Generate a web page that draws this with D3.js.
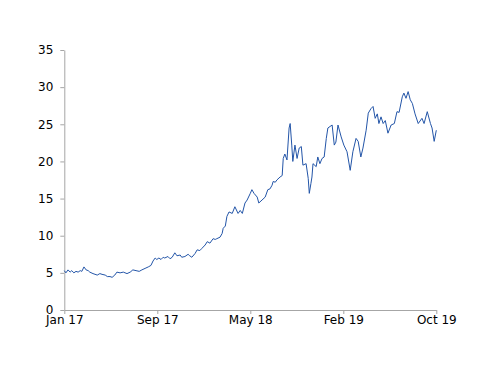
<!DOCTYPE html>
<html>
<head>
<meta charset="utf-8">
<script src="https://cdn.jsdelivr.net/npm/d3@7"></script>
<style>
  body { margin: 0; background: #fff; }
  .axis path, .axis line { stroke: #a6a6a6; }
  .axis text { fill: #000; font-family: "DejaVu Sans", Verdana, sans-serif; font-size: 12px; }
</style>
</head>
<body>
<svg id="chart"></svg>
<script>
"use strict";

// trading-day index from the first observation
var days = [0, 3, 7, 11, 14, 18, 22, 26, 30, 33, 37, 41, 45, 48, 54, 62, 67, 71, 77, 81,
  86, 90, 95, 99, 105, 111, 118, 124, 129, 135, 141, 146, 152, 158, 163, 167, 171, 174, 178, 182,
  186, 189, 195, 199, 203, 208, 212, 218, 221, 227, 233, 236, 240, 246, 250, 255, 259, 265, 269, 274,
  280, 284, 287, 293, 297, 299, 303, 306, 310, 316, 321, 327, 331, 335, 340, 344, 350, 353, 357, 363,
  366, 372, 378, 383, 387, 391, 393, 397, 400, 406, 410, 412, 415, 419, 423, 425, 428, 430, 434, 438,
  442, 446, 449, 455, 459, 461, 464, 466, 468, 474, 477, 481, 485, 489, 493, 496, 500, 504, 508, 511,
  515, 521, 526, 532, 538, 543, 549, 553, 558, 562, 568, 572, 577, 581, 585, 589, 592, 596, 600, 604,
  609, 615, 621, 626, 630, 636, 639, 643, 647, 651, 655, 660, 666, 673, 677, 683, 689, 692, 696, 700];

var values = [5.3, 5.0, 5.4, 5.1, 5.3, 5.0, 5.2, 5.1, 5.3, 5.2, 5.8, 5.4, 5.3, 5.1, 4.9, 4.7, 4.9, 4.8, 4.7, 4.5,
  4.5, 4.4, 4.7, 5.1, 5.0, 5.1, 4.9, 5.1, 5.4, 5.3, 5.2, 5.4, 5.6, 5.8, 6.0, 6.6, 7.0, 6.8, 7.0, 6.8,
  7.1, 7.0, 7.2, 6.9, 7.1, 7.7, 7.3, 7.4, 7.1, 7.2, 7.5, 7.3, 7.1, 7.6, 8.1, 8.0, 8.3, 8.75, 9.2, 9.0,
  9.6, 9.5, 9.6, 9.8, 10.3, 11.0, 11.3, 12.6, 13.2, 13.0, 13.9, 13.0, 13.4, 13.0, 14.4, 14.8, 15.7, 16.2, 15.7, 15.2,
  14.4, 14.8, 15.2, 16.2, 16.3, 16.8, 17.3, 17.2, 17.5, 17.9, 18.1, 20.4, 21.0, 20.2, 24.5, 25.1, 22.2, 20.0, 22.2, 20.4,
  21.8, 22.0, 19.5, 19.7, 17.7, 15.7, 17.0, 17.9, 19.7, 19.3, 20.6, 19.7, 20.4, 20.6, 23.1, 24.5, 24.7, 24.9, 22.2, 22.6,
  24.9, 23.3, 22.2, 21.3, 18.8, 21.3, 23.1, 22.7, 20.6, 21.8, 24.2, 26.5, 27.1, 27.4, 25.8, 26.4, 25.1, 26.0, 25.1, 25.5,
  23.8, 24.9, 25.1, 26.7, 26.6, 28.7, 29.2, 28.5, 29.4, 28.3, 27.8, 26.4, 25.1, 25.8, 25.1, 26.7, 25.1, 24.5, 22.7, 24.2];

var tickDays = [0, 175, 350, 525, 700];
var tickLabels = ["Jan 17", "Sep 17", "May 18", "Feb 19", "Oct 19"];
var yTicks = [0, 5, 10, 15, 20, 25, 30, 35];

var width = 500, height = 386;
var margin = { top: 50, right: 63.7, bottom: 76, left: 64.3 };

var svg = d3.select("#chart")
  .attr("width", width)
  .attr("height", height);

var x = d3.scaleLinear()
  .domain([0, 700])
  .range([margin.left, width - margin.right]);

var y = d3.scaleLinear()
  .domain([0, 35])
  .range([height - margin.bottom, margin.top]);

var xAxis = d3.axisBottom(x)
  .tickValues(tickDays)
  .tickFormat(function (d, i) { return tickLabels[i]; })
  .tickSizeInner(4)
  .tickSizeOuter(0)
  .tickPadding(1);

var yAxis = d3.axisLeft(y)
  .tickValues(yTicks)
  .tickSizeInner(4)
  .tickSizeOuter(0)
  .tickPadding(7);

svg.append("g")
  .attr("class", "axis")
  .attr("transform", "translate(0," + (height - margin.bottom) + ")")
  .call(xAxis);

svg.append("g")
  .attr("class", "axis")
  .attr("transform", "translate(" + margin.left + ",0)")
  .call(yAxis);

var series = days.map(function (d, i) { return [d, values[i]]; });

var line = d3.line()
  .x(function (d) { return x(d[0]); })
  .y(function (d) { return y(d[1]); });

svg.append("path")
  .datum(series)
  .attr("fill", "none")
  .attr("stroke", "#2355a8")
  .attr("stroke-width", 1)
  .attr("stroke-linejoin", "round")
  .attr("d", line);
</script>
</body>
</html>
